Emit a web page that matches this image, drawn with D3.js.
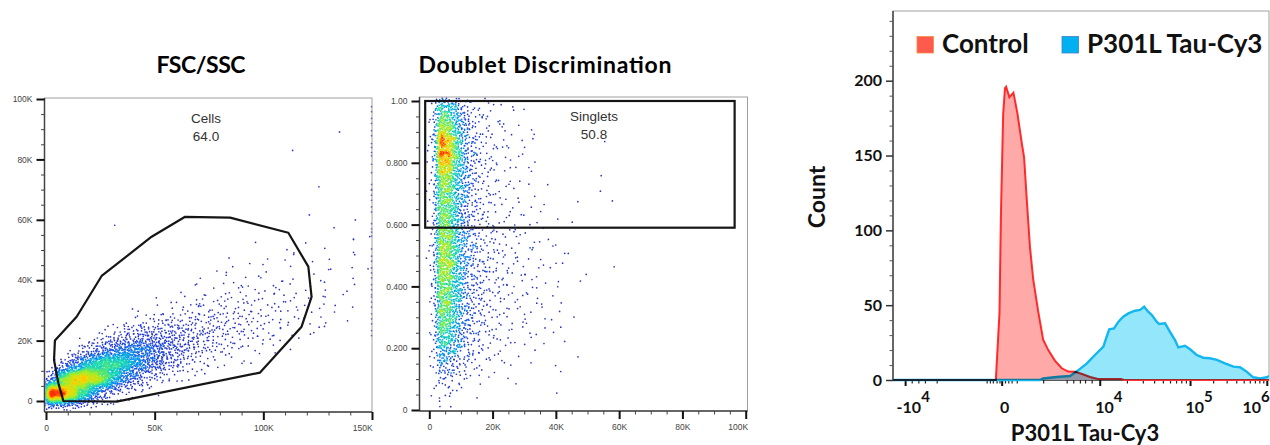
<!DOCTYPE html>
<html>
<head>
<meta charset="utf-8">
<script src="https://cdn.jsdelivr.net/npm/d3@7"></script>
<style>
  body { margin: 0; background: #fff; }
  svg { display: block; font-family: "Liberation Sans", Arial, sans-serif; }
</style>
</head>
<body>
<svg id="chart" width="1270" height="445"></svg>
<script>
// ---------- data ----------

// FSC/SSC: events per 5K x 5K bin. row 0 = SSC 0-5K, col 0 = FSC 0-5K
const fscBin = 5000;
const fscSscCounts = [
  [380,330,230,130,60,25,10,4,2,0,0,0,0,0,0,0,0,0,0,0,0,0,0,0,0,0,0,0,0,0],
  [20,160,250,280,240,170,100,55,30,15,8,4,2,1,0,0,0,0,0,0,0,0,0,0,0,0,0,0,0,0],
  [0,10,40,80,120,150,150,120,80,55,35,22,14,8,5,3,2,1,1,0,0,0,0,0,0,0,0,0,0,0],
  [0,0,0,10,20,35,50,65,65,60,45,35,25,18,12,9,6,5,3,3,2,1,1,0,0,0,0,0,0,0],
  [0,0,0,0,0,5,10,14,20,25,25,24,22,18,15,12,10,8,7,5,4,3,2,2,1,1,0,0,0,0],
  [0,0,0,0,0,0,0,2,3,5,7,8,9,10,10,10,9,8,7,6,5,4,3,2,2,2,2,1,0,1],
  [0,0,0,0,0,0,0,0,0,0,1,2,3,4,5,5,5,5,5,5,4,4,3,3,2,1,2,1,1,1],
  [0,0,0,0,0,0,0,0,0,0,0,0,0,1,2,2,3,3,3,3,3,3,2,2,2,2,1,1,1,0],
  [0,0,0,0,0,0,0,0,0,0,0,0,0,0,1,1,1,1,1,1,1,1,1,1,1,1,1,0,1,1],
  [0,0,0,0,0,0,0,0,0,0,0,0,0,0,0,0,0,1,1,1,1,1,1,1,1,1,1,1,1,0],
  [0,0,0,0,0,0,0,0,0,0,0,0,0,0,0,0,0,0,0,0,0,0,1,1,0,0,0,1,2,1],
  [0,0,0,0,0,0,0,1,0,0,0,0,0,0,0,0,0,0,0,0,0,0,0,0,0,0,1,0,1,0],
  [0,0,0,0,0,0,0,0,0,0,0,0,0,0,0,0,0,0,0,0,0,0,0,0,1,0,0,0,0,0],
  [0,0,0,0,0,0,0,0,0,0,0,0,0,0,0,0,0,0,0,0,0,0,0,0,0,0,0,0,0,0],
  [0,0,0,0,0,0,0,0,0,0,0,0,0,0,0,0,0,0,0,0,0,0,0,0,1,0,0,0,0,0],
  [0,0,0,0,0,0,0,0,0,0,0,0,0,0,0,0,0,0,0,0,0,0,0,0,0,0,0,0,0,0],
  [0,0,0,0,0,0,0,0,0,0,0,0,0,0,0,0,0,0,0,0,0,0,1,0,0,0,0,0,0,0],
  [0,0,0,0,0,0,0,0,0,0,0,0,0,0,0,0,0,0,0,0,0,0,0,0,0,0,0,1,0,0],
  [0,0,0,0,0,0,0,0,0,0,0,0,0,0,0,0,0,0,0,0,0,0,0,0,0,0,0,0,0,0],
  [0,0,0,0,0,0,0,0,0,0,0,0,0,0,0,0,0,0,0,0,0,0,0,0,0,0,0,0,0,0]
];
// events piled up on FSC = 150K (off scale), per 5K SSC row from row 4 up
const fscEdgeCounts = [2,3,3,3,3,2,2,3,2,3,2,2,3,3,2,2];
const cellsGate = [[4100,20000],[3700,13600],[5700,5900],[8000,0],[32500,-200],[98500,9400],
  [117600,24600],[122200,34500],[120700,44500],[111500,55700],[84700,60700],[64000,61000],
  [48600,54400],[25600,41400],[14100,27900]];
const fscTicks = [0, 50000, 100000, 150000];
const fscTickLabels = ["0", "50K", "100K", "150K"];
const sscTicks = [0, 20000, 40000, 60000, 80000, 100000];
const sscTickLabels = ["0", "20K", "40K", "60K", "80K", "100K"];

// Doublet discrimination: events per 2.5K x 0.05 bin. row 0 = 0-0.05, col 0 = 0-2.5K
const dbBinX = 2500, dbBinY = 0.05;
const doubletCounts = [
  [1,3,2,1,0,0,0,0,0,0,0,0,0,0,0,0,0,0,0,0,0,0,0,0],
  [1,5,4,3,2,1,1,0,0,0,0,0,0,0,0,0,1,0,0,0,0,0,0,0],
  [2,15,13,8,5,3,2,2,1,1,1,1,0,0,0,0,1,0,0,0,0,0,0,0],
  [3,30,27,16,9,6,4,3,2,2,1,1,1,1,0,0,1,0,1,0,0,0,0,0],
  [4,45,40,25,14,8,5,4,3,2,2,1,1,1,1,1,0,1,0,0,0,0,0,0],
  [4,55,48,30,17,10,6,5,3,3,2,2,1,1,1,1,1,0,1,0,0,0,0,0],
  [4,62,54,34,19,11,7,5,4,3,2,2,2,1,1,1,1,1,0,0,0,0,0,0],
  [4,62,55,34,19,11,8,6,4,3,3,2,2,2,1,1,1,0,0,0,0,0,0,0],
  [5,68,60,37,20,12,8,6,4,3,3,2,2,2,1,1,1,0,1,1,0,0,0,0],
  [5,75,65,40,22,12,8,6,4,3,3,2,2,2,1,1,1,1,0,0,0,0,0,1],
  [5,72,63,40,22,12,8,5,4,3,3,2,2,1,1,1,1,1,0,0,0,0,0,0],
  [5,66,60,36,20,11,8,5,4,3,2,2,2,1,1,1,0,0,0,0,0,0,0,0],
  [4,62,56,34,19,10,6,4,3,2,2,1,1,1,1,0,1,1,0,0,0,0,0,0],
  [4,62,56,34,19,10,6,4,3,2,2,1,1,1,1,0,0,0,1,0,0,0,1,0],
  [5,68,60,37,20,11,6,4,3,2,1,1,1,0,0,1,0,0,0,0,0,1,0,0],
  [5,80,70,42,22,12,6,4,3,2,2,1,1,1,0,0,0,0,0,0,0,1,0,0],
  [6,110,90,50,24,12,6,4,3,2,2,1,1,1,0,0,0,0,0,0,0,1,0,0],
  [6,105,85,46,22,11,6,4,3,2,2,1,1,1,0,0,0,0,0,0,0,0,0,0],
  [5,70,58,36,18,9,5,3,2,2,1,1,1,0,0,0,0,0,0,0,0,0,0,0],
  [4,50,40,26,13,7,4,3,2,1,1,0,1,0,0,0,0,0,0,0,0,0,0,0]
];
const singletsGate = { x0: -1300, x1: 96500, y0: 0.59, y1: 1.0 };
const dbXTicks = [0, 20000, 40000, 60000, 80000, 100000];
const dbXTickLabels = ["0", "20K", "40K", "60K", "80K", "100K"];
const dbYTicks = [0, 0.2, 0.4, 0.6, 0.8, 1.0];
const dbYTickLabels = ["0", "0.200", "0.400", "0.600", "0.800", "1.00"];

// Histogram (display channels 0-1024, biexponential axis)
const controlChannel = [0,280,290,294,300,305,308,317,328,339,351,357,364,373,382,396,409,423,441,459,477,496,515,537,558,621,629,1024];
const controlCount   = [0,0,45,112,178,195,196,189,192,178,158,149,122,89,67,45,27,20,13,8,5.6,5.5,4,2,0.7,0.7,0,0];
const tauChannel = [0,400,409,446,482,500,528,550,573,582,589,602,614,627,641,659,673,684,695,705,718,725,741,754,768,777,795,809,827,845,863,882,904,927,945,963,981,1000,1018,1024];
const tauCount   = [0,0,1,2,2.7,5.6,11.1,16.7,22.3,29,33.9,34.5,39,42.3,44.5,46.3,46.8,49,45.6,43.4,39,37.4,37.9,32.3,26.7,21.8,22.9,20.5,16.7,14.9,14.5,13.4,11.1,8.9,8.5,5.6,1.8,1.1,1.8,2.7];
const histXTickChannels = [33, 296, 563, 809, 1018];
const histXTickBase = ["-10", "0", "10", "10", "10"];
const histXTickExp  = ["4", "", "4", "5", "6"];
const histXMinorChannels = [51,69,87,119,255,264,272,282,290,305,314,323,337,409,473,491,509,523,541];
const histYTicks = [0, 50, 100, 150, 200];
const seriesNames = ["Control", "P301L Tau-Cy3"];

// ---------- helpers ----------
const svg = d3.select("#chart");

function halton(i, b) {
  let f = 1, r = 0;
  while (i > 0) { f /= b; r += f * (i % b); i = Math.floor(i / b); }
  return r;
}

// spread each bin's events around the bin centre (gaussian-shaped, halton driven, no randomness)
function binEvents(counts, dx, dy, sigma) {
  const ev = [];
  let k = 1;
  counts.forEach((row, r) => row.forEach((n, c) => {
    for (let i = 0; i < n; i++, k++) {
      const rad = Math.sqrt(-2 * Math.log(1 - halton(k, 2) * 0.985));
      const ang = 2 * Math.PI * halton(k, 3);
      ev.push({
        x: (c + 0.5 + rad * Math.cos(ang) * sigma) * dx,
        y: (r + 0.5 + rad * Math.sin(ang) * sigma) * dy
      });
    }
  }));
  return ev;
}

function addDensity(pts, radius, power) {
  const qt = d3.quadtree(pts, d => d.px, d => d.py);
  const r2 = radius * radius;
  pts.forEach(p => {
    let n = 0;
    qt.visit((node, x0, y0, x1, y1) => {
      if (!node.length) {
        do {
          const d = node.data, dx = d.px - p.px, dy = d.py - p.py;
          if (dx * dx + dy * dy < r2) n++;
        } while (node = node.next);
      }
      return x0 > p.px + radius || x1 < p.px - radius || y0 > p.py + radius || y1 < p.py - radius;
    });
    p.dens = n;
  });
  const max = d3.max(pts, d => d.dens);
  pts.forEach(p => p.t = Math.pow(p.dens / max, power));
}

const pseudo = d3.scaleLinear()
  .domain([0, 0.16, 0.3, 0.45, 0.62, 0.8, 0.96])
  .range(["#3030b8", "#1f3cdc", "#0096f0", "#18dcb0", "#9cee28", "#ffd400", "#ff2a00"])
  .clamp(true);

function frameBox(g, f) {
  g.append("rect")
    .attr("x", f.left).attr("y", f.top)
    .attr("width", f.right - f.left).attr("height", f.bottom - f.top)
    .attr("fill", "none").attr("stroke", "#a0a0a0").attr("stroke-width", 1);
}

function styleTicks(sel, w, color) {
  sel.select(".domain").remove();
  sel.selectAll(".tick line").attr("stroke", color).attr("stroke-width", w);
}

function clampLabels(g, maxX) {
  g.selectAll(".tick text").each(function () {
    const b = this.getBBox();
    const t = d3.select(this.parentNode).attr("transform");
    const tx = +/translate\(([-\d.]+)/.exec(t)[1];
    if (tx + b.x + b.width > maxX) d3.select(this).attr("dx", maxX - (tx + b.x + b.width));
  });
}

function scatterPanel(opt) {
  const f = opt.frame;
  const g = svg.append("g");
  const x = opt.x, y = opt.y;
  const clipId = opt.id + "-clip";
  svg.append("clipPath").attr("id", clipId)
    .append("rect").attr("x", f.left + 1).attr("y", f.top)
    .attr("width", f.right - f.left).attr("height", f.bottom - f.top - 1);

  // dots
  const pts = opt.events;
  pts.forEach(p => { p.px = x(p.x); p.py = y(p.y); });
  addDensity(pts, 3, opt.power);
  pts.sort((a, b) => a.dens - b.dens);
  g.append("g").attr("clip-path", `url(#${clipId})`)
    .selectAll("circle").data(pts).join("circle")
    .attr("cx", d => d.px).attr("cy", d => d.py).attr("r", 0.85)
    .attr("fill", d => pseudo(d.t));

  frameBox(g, f);
  g.append("line").attr("x1", f.left).attr("x2", f.left).attr("y1", f.top).attr("y2", f.bottom)
    .attr("stroke", "#444").attr("stroke-width", 1.5);
  g.append("line").attr("x1", f.left).attr("x2", f.right).attr("y1", f.bottom).attr("y2", f.bottom)
    .attr("stroke", "#444").attr("stroke-width", 1.5);

  // axes
  const yMinor = g.append("g").attr("transform", `translate(${f.left},0)`)
    .call(d3.axisLeft(y).tickValues(opt.yMinor).tickSize(3.5).tickFormat(""));
  styleTicks(yMinor, 1, "#444");
  const yAx = g.append("g").attr("transform", `translate(${f.left},0)`)
    .call(d3.axisLeft(y).tickValues(opt.yTicks).tickSize(8).tickPadding(4)
      .tickFormat((d, i) => opt.yLabels[i]));
  styleTicks(yAx, 2, "#111");
  const xMinor = g.append("g").attr("transform", `translate(0,${f.bottom})`)
    .call(d3.axisBottom(x).tickValues(opt.xMinor).tickSize(3.5).tickFormat(""));
  styleTicks(xMinor, 1, "#444");
  const xAx = g.append("g").attr("transform", `translate(0,${f.bottom})`)
    .call(d3.axisBottom(x).tickValues(opt.xTicks).tickSize(8).tickPadding(5)
      .tickFormat((d, i) => opt.xLabels[i]));
  styleTicks(xAx, 2, "#111");
  [yAx, xAx].forEach(a => a.selectAll(".tick text")
    .attr("fill", "#444").style("font-size", "8.5px").style("font-family", "'Liberation Sans', Arial, sans-serif"));
  clampLabels(xAx, f.right + 1);

  // title
  svg.append("text").attr("x", opt.titleX).attr("y", 73)
    .attr("text-anchor", "middle")
    .attr("textLength", opt.titleWidth).attr("lengthAdjust", "spacing")
    .style("font-family", "Lato, sans-serif").style("font-weight", 700).style("font-size", "23px")
    .text(opt.title);
  return g;
}

// ---------- panel 1: FSC/SSC ----------
const f1 = { left: 44.5, right: 372, top: 98, bottom: 412 };
const x1 = d3.scaleLinear().domain([0, 150000]).range([46, 372]);
const y1 = d3.scaleLinear().domain([0, 100000]).range([401, 99]);
const ev1 = binEvents(fscSscCounts, fscBin, fscBin, 0.42);
let k1 = 1;
fscEdgeCounts.forEach((n, i) => {
  for (let j = 0; j < n; j++, k1++) ev1.push({ x: 149800, y: (i + 4 + halton(k1, 3)) * fscBin });
});
const g1 = scatterPanel({
  id: "p1", frame: f1, x: x1, y: y1, events: ev1, power: 0.85,
  xTicks: fscTicks, xLabels: fscTickLabels, xMinor: d3.range(10000, 150000, 10000).filter(v => v % 50000),
  yTicks: sscTicks, yLabels: sscTickLabels, yMinor: d3.range(5000, 100000, 5000).filter(v => v % 20000),
  title: "FSC/SSC", titleX: 201, titleWidth: 89
});
g1.append("path")
  .attr("d", d3.line().x(d => x1(d[0])).y(d => y1(d[1]))(cellsGate) + "Z")
  .attr("fill", "none").attr("stroke", "#151515").attr("stroke-width", 2.2).attr("stroke-linejoin", "round");
const gateText = (g, x, y, lines) => lines.forEach((t, i) =>
  g.append("text").attr("x", x).attr("y", y + i * 18).attr("text-anchor", "middle")
    .attr("fill", "#333").style("font-size", "13.5px").text(t));
gateText(g1, 206, 122.5, ["Cells", "64.0"]);

// ---------- panel 2: Doublet discrimination ----------
const f2 = { left: 419.5, right: 747.5, top: 97, bottom: 411 };
const x2 = d3.scaleLinear().domain([0, 100000]).range([429.3, 745.7]);
const y2 = d3.scaleLinear().domain([0, 1]).range([410, 101]);
const ev2 = binEvents(doubletCounts, dbBinX, dbBinY, 0.42);
const g2 = scatterPanel({
  id: "p2", frame: f2, x: x2, y: y2, events: ev2, power: 0.85,
  xTicks: dbXTicks, xLabels: dbXTickLabels, xMinor: d3.range(5000, 100000, 5000).filter(v => v % 20000),
  yTicks: dbYTicks, yLabels: dbYTickLabels, yMinor: d3.range(1, 20).filter(v => v % 4).map(v => v * 0.05),
  title: "Doublet Discrimination", titleX: 545, titleWidth: 253
});
g2.append("rect")
  .attr("x", x2(singletsGate.x0)).attr("y", y2(singletsGate.y1))
  .attr("width", x2(singletsGate.x1) - x2(singletsGate.x0))
  .attr("height", y2(singletsGate.y0) - y2(singletsGate.y1))
  .attr("fill", "none").attr("stroke", "#151515").attr("stroke-width", 2.2);
gateText(g2, 594, 121, ["Singlets", "50.8"]);

// ---------- panel 3: histogram ----------
const f3 = { left: 893, right: 1269, top: 11, bottom: 380 };
const hx = d3.scaleLinear().domain([0, 1024]).range([f3.left, f3.right]);
const hy = d3.scaleLinear().domain([0, 200]).range([380, 80.7]);
const g3 = svg.append("g");
frameBox(g3, f3);

const bold = sel => sel.style("font-family", "Lato, sans-serif").style("font-weight", 700);

// y axis
g3.append("line").attr("x1", f3.left).attr("x2", f3.left).attr("y1", f3.top).attr("y2", f3.bottom)
  .attr("stroke", "#444").attr("stroke-width", 1.5);
const hyMinor = g3.append("g").attr("transform", `translate(${f3.left},0)`)
  .call(d3.axisLeft(hy).tickValues(d3.range(10, 250, 10).filter(v => v % 50)).tickSize(3.5).tickFormat(""));
styleTicks(hyMinor, 1, "#555");
const hyAx = g3.append("g").attr("transform", `translate(${f3.left},0)`)
  .call(d3.axisLeft(hy).tickValues(histYTicks).tickSize(7).tickPadding(4));
styleTicks(hyAx, 1.5, "#333");
hyAx.selectAll(".tick text").attr("fill", "#111").style("font-size", "16px").call(bold);

// x axis
g3.append("line").attr("x1", f3.left).attr("x2", f3.right).attr("y1", f3.bottom).attr("y2", f3.bottom)
  .attr("stroke", "#333").attr("stroke-width", 1.5);
const dec1 = d3.scaleLog().domain([1e4, 1e5]).range([histXTickChannels[2], histXTickChannels[3]]);
const dec2 = d3.scaleLog().domain([1e5, 1e6]).range([histXTickChannels[3], histXTickChannels[4]]);
const logMinor = d3.range(2, 10).flatMap(k => [dec1(k * 1e4), dec2(k * 1e5)]);
const hxMinor = g3.append("g").attr("transform", `translate(0,${f3.bottom})`)
  .call(d3.axisBottom(hx).tickValues(histXMinorChannels.concat(logMinor)).tickSize(3.5).tickFormat(""));
styleTicks(hxMinor, 1.2, "#222");
const hxAx = g3.append("g").attr("transform", `translate(0,${f3.bottom})`)
  .call(d3.axisBottom(hx).tickValues(histXTickChannels).tickSize(6).tickFormat(""));
styleTicks(hxAx, 2, "#111");
histXTickChannels.forEach((ch, i) => {
  const base = histXTickBase[i], exp = histXTickExp[i];
  const t = g3.append("text").attr("y", 413).attr("fill", "#111").style("font-size", "16px").call(bold);
  if (!exp) {
    t.attr("x", hx(ch) + 3).attr("text-anchor", "middle").text(base);
  } else {
    t.attr("x", hx(ch) + (base[0] === "-" ? -8.5 : -4.5)).attr("text-anchor", "start");
    t.append("tspan").text(base);
    t.append("tspan").attr("dy", -11).style("font-size", "15px").text(exp);
    const b = t.node().getBBox();
    if (b.x + b.width > f3.right + 1) t.attr("x", +t.attr("x") - (b.x + b.width - f3.right - 1));
  }
});

// curves
const area = d3.area().x(d => hx(d[0])).y0(hy(0)).y1(d => hy(d[1]));
const line = d3.line().x(d => hx(d[0])).y(d => hy(d[1]));
const tauData = tauChannel.map((c, i) => [c, tauCount[i]]);
const ctrlData = controlChannel.map((c, i) => [c, controlCount[i]]);
svg.append("clipPath").attr("id", "p3-clip")
  .append("rect").attr("x", f3.left).attr("y", f3.top).attr("width", f3.right - f3.left).attr("height", f3.bottom - f3.top + 2);
const curves = g3.append("g").attr("clip-path", "url(#p3-clip)");
curves.append("path").attr("d", area(tauData)).attr("fill", "#94e6fb");
curves.append("path").attr("d", line(tauData)).attr("fill", "none").attr("stroke", "#14b6ef").attr("stroke-width", 2.4);
curves.append("path").attr("d", area(ctrlData)).attr("fill", "#ffa9a9").style("mix-blend-mode", "multiply");
curves.append("path").attr("d", line(ctrlData)).attr("fill", "none").attr("stroke", "#ff3434").attr("stroke-width", 2)
  .style("mix-blend-mode", "multiply");

// legend
const legend = g3.append("g");
const legendX = [917, 1062];
const legendFill = ["#ff5a4e", "#00b0f0"];
const legendStroke = ["#f39040", "#3d86c6"];
seriesNames.forEach((name, i) => {
  legend.append("rect").attr("x", legendX[i]).attr("y", 36.5).attr("width", 16.5).attr("height", 16.5)
    .attr("fill", legendFill[i]).attr("stroke", legendStroke[i]).attr("stroke-width", 0.8);
  legend.append("text").attr("x", legendX[i] + 25).attr("y", 53).attr("fill", "#111")
    .style("font-size", "26px").call(bold).text(name);
});

// axis titles
g3.append("text").attr("transform", "translate(825,197) rotate(-90)").attr("text-anchor", "middle")
  .attr("fill", "#111").style("font-size", "23px").call(bold).text("Count");
g3.append("text").attr("x", 1085).attr("y", 440.5).attr("text-anchor", "middle")
  .attr("fill", "#111").style("font-size", "22px").call(bold).text("P301L Tau-Cy3");
</script>
</body>
</html>
